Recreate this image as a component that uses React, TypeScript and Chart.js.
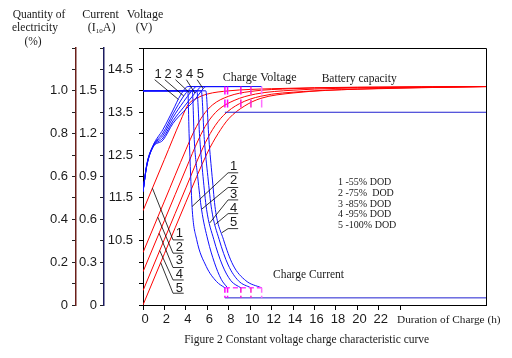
import React, { useEffect, useRef } from 'react';
import { Chart, registerables } from 'chart.js';
Chart.register(...registerables);

// ---------- data ----------
const X_TICKS = [0, 2, 4, 6, 8, 10, 12, 14, 16, 18, 20, 22, 24];
const DOD_LEGEND = ['1 -55% DOD', '2 -75%  DOD', '3 -85% DOD', '4 -95% DOD', '5 -100% DOD'];

// Charge voltage (V) vs time (h)
const V1 = [[0, 11.65], [0.35, 12.28], [0.93, 12.72], [1.87, 13.1], [2.8, 13.55], [3.5, 13.9], [4.2, 14.1], [7.64, 14.1]];
const V2 = [[0, 11.65], [0.35, 12.27], [0.93, 12.71], [1.87, 13.02], [2.8, 13.46], [3.8, 13.88], [4.3, 14.03], [4.6, 14.1], [7.89, 14.1]];
const V3 = [[0, 11.65], [0.35, 12.26], [0.93, 12.7], [1.87, 12.96], [2.8, 13.38], [3.8, 13.75], [4.5, 13.98], [5.0, 14.1], [9.13, 14.1]];
const V4 = [[0, 11.65], [0.35, 12.25], [0.93, 12.69], [1.87, 12.9], [2.8, 13.3], [3.8, 13.62], [4.6, 13.87], [5.1, 14.02], [5.45, 14.1], [10.07, 14.1]];
const V5 = [[0, 11.65], [0.35, 12.24], [0.93, 12.68], [1.87, 12.85], [2.8, 13.24], [3.8, 13.52], [4.8, 13.78], [5.4, 13.98], [5.86, 14.1], [11.07, 14.1]];
const V_FLOAT = [[7.64, 13.5], [32, 13.5]];

// Charge current (I10A)
const I1 = [[0, 1.5], [4.18, 1.5], [4.3, 1.2], [4.45, 0.9], [4.6, 0.66], [5.0, 0.46], [5.9, 0.27], [6.85, 0.165], [7.64, 0.12]];
const I2 = [[0, 1.5], [4.6, 1.5], [4.78, 1.16], [5.1, 0.9], [5.46, 0.67], [6.05, 0.455], [6.65, 0.3], [7.3, 0.18], [7.89, 0.12]];
const I3 = [[0, 1.5], [5.02, 1.5], [5.3, 1.16], [5.6, 0.9], [5.93, 0.67], [6.6, 0.46], [7.4, 0.28], [8.2, 0.17], [9.13, 0.12]];
const I4 = [[0, 1.5], [5.44, 1.5], [5.72, 1.16], [6.05, 0.9], [6.4, 0.67], [7.1, 0.46], [7.95, 0.28], [8.9, 0.17], [10.07, 0.12]];
const I5 = [[0, 1.5], [5.86, 1.5], [6.15, 1.16], [6.45, 0.9], [6.75, 0.67], [7.5, 0.46], [8.4, 0.28], [9.6, 0.17], [11.07, 0.12]];
const I_FLOAT = [[7.64, 0.05], [32, 0.05]];
const I_STEP_TOP = [[7.64, 0.12], [11.07, 0.12]];

// Battery capacity (fraction)
const Q1 = [[0, 0.44], [2, 0.68], [3.5, 0.86], [4.2, 0.935], [5, 0.965], [6, 0.985], [8, 1.0], [12, 1.01], [20, 1.017], [32, 1.02]];
const Q2 = [[0, 0.245], [2, 0.485], [4, 0.725], [4.8, 0.815], [5.6, 0.885], [6.5, 0.935], [8, 0.975], [10, 0.997], [14, 1.01], [22, 1.017], [32, 1.02]];
const Q3 = [[0, 0.155], [2, 0.395], [4, 0.635], [5.2, 0.775], [6, 0.85], [7, 0.91], [8.5, 0.955], [10.5, 0.985], [14, 1.003], [22, 1.015], [32, 1.02]];
const Q4 = [[0, 0.067], [2, 0.307], [4, 0.547], [5.6, 0.735], [6.5, 0.82], [7.5, 0.885], [9, 0.94], [11, 0.975], [15, 0.997], [22, 1.01], [32, 1.02]];
const Q5 = [[0, 0], [2, 0.24], [4, 0.48], [6, 0.71], [7, 0.8], [8, 0.87], [9.5, 0.93], [11, 0.965], [14, 0.99], [20, 1.008], [32, 1.02]];

// switch-over times (h) of the five curves
const T_SWITCH = [7.64, 7.89, 9.13, 10.07, 11.07];
const SWITCH_COLORS = ['#ff00ff', '#ff00ff', '#ff10d0', '#ff20c8', '#ff70ff'];

// leader lines (data coords)
const LEAD_V = [
  [[1.09, 14.26], [3.3, 13.8]],
  [[2.03, 14.26], [3.8, 13.88]],
  [[3.03, 14.26], [4.36, 13.95]],
  [[4.05, 14.26], [4.83, 13.95]],
  [[5.05, 14.26], [5.61, 14.05]],
];
const LABEL_V = [[1.4, 14.38], [2.34, 14.38], [3.34, 14.38], [4.36, 14.38], [5.36, 14.38]];
const LEAD_Q = [
  [[0.88, 0.545], [2.8, 0.304], [3.8, 0.304]],
  [[1.38, 0.41], [2.8, 0.242], [3.8, 0.242]],
  [[1.5, 0.335], [2.8, 0.175], [3.8, 0.175]],
  [[1.56, 0.254], [2.8, 0.117], [3.8, 0.117]],
  [[1.65, 0.198], [2.8, 0.055], [3.8, 0.055]],
];
const LABEL_Q = [[3.4, 0.333], [3.4, 0.267], [3.4, 0.206], [3.4, 0.141], [3.4, 0.078]];
const LEAD_I = [
  [[4.58, 0.69], [7.94, 0.926], [8.88, 0.926]],
  [[5.46, 0.67], [7.94, 0.823], [8.88, 0.823]],
  [[6.23, 0.575], [7.94, 0.736], [8.88, 0.736]],
  [[6.75, 0.565], [7.94, 0.64], [8.88, 0.64]],
  [[7.33, 0.505], [7.94, 0.535], [8.88, 0.535]],
];
const LABEL_I = [[8.45, 0.969], [8.45, 0.87], [8.45, 0.776], [8.45, 0.678], [8.45, 0.578]];

// ---------- styling ----------
const SANS = "'Liberation Sans', Arial, sans-serif";
const SERIF = "'Liberation Serif', 'Times New Roman', serif";
const BLUE = '#1010ff';
const RED = '#ff0000';

const pts = (a: number[][]) => a.map(([x, y]) => ({ x, y }));

function line(a: number[][], axis: string, color: string, extra: any = {}) {
  return {
    type: 'line',
    data: pts(a),
    yAxisID: axis,
    borderColor: color,
    borderWidth: 1,
    pointRadius: 0,
    fill: false,
    ...extra,
  };
}

const curve = { cubicInterpolationMode: 'monotone' };

const textPlugin = {
  id: 'texts',
  afterDraw(chart: any) {
    const ctx = chart.ctx;
    const { left, top, right, bottom } = chart.chartArea;
    const sx = chart.scales.x;
    const sV = chart.scales.yV;
    const sQ = chart.scales.yQ;
    const sI = chart.scales.yI;
    ctx.save();
    // frame top + right
    ctx.strokeStyle = '#000';
    ctx.lineWidth = 1;
    ctx.beginPath();
    ctx.moveTo(left, Math.round(top) + 0.5);
    ctx.lineTo(Math.round(right) + 0.5, Math.round(top) + 0.5);
    ctx.lineTo(Math.round(right) + 0.5, bottom);
    ctx.stroke();

    ctx.fillStyle = '#1a1a1a';
    ctx.textBaseline = 'middle';
    // axis titles
    ctx.textAlign = 'center';
    ctx.font = `11.5px ${SERIF}`;
    ctx.fillText('Quantity of', 39, 15);
    ctx.fillText('electricity', 35, 28);
    ctx.fillText('(%)', 33, 42);
    ctx.font = `12px ${SERIF}`;
    ctx.fillText('Current', 100.5, 15);
    ctx.fillText('Voltage', 145, 15);
    ctx.fillText('(V)', 144, 28);
    // (I10A)
    ctx.textAlign = 'left';
    const p1 = '(I';
    const p3 = 'A)';
    ctx.font = `12px ${SERIF}`;
    const w1 = ctx.measureText(p1).width;
    const w3 = ctx.measureText(p3).width;
    ctx.font = `7px ${SERIF}`;
    const w2 = ctx.measureText('10').width;
    const x0 = 101.7 - (w1 + w2 + w3) / 2;
    ctx.font = `12px ${SERIF}`;
    ctx.fillText(p1, x0, 28);
    ctx.font = `7px ${SERIF}`;
    ctx.fillText('10', x0 + w1, 31);
    ctx.font = `12px ${SERIF}`;
    ctx.fillText(p3, x0 + w1 + w2, 28);

    // curve texts
    ctx.font = `12px ${SERIF}`;
    ctx.fillText('Charge Voltage', 222.7, 78);
    ctx.font = `11.5px ${SERIF}`;
    ctx.fillText('Battery capacity', 321.7, 79.3);
    ctx.fillText('Charge Current', 273, 275);

    // legend
    ctx.font = `10px ${SERIF}`;
    DOD_LEGEND.forEach((t, i) => ctx.fillText(t, 338, 182.7 + i * 10.65));

    // x-axis title & caption
    ctx.font = `11.3px ${SERIF}`;
    ctx.fillText('Duration of Charge (h)', 397, 320);
    ctx.font = `11.5px ${SERIF}`;
    ctx.textAlign = 'center';
    ctx.fillText('Figure 2 Constant voltage charge characteristic curve', 306.7, 340);

    // curve number labels
    ctx.font = `13px ${SANS}`;
    ctx.textAlign = 'center';
    LABEL_V.forEach(([t, v], i) => ctx.fillText(String(i + 1), sx.getPixelForValue(t), sV.getPixelForValue(v)));
    LABEL_Q.forEach(([t, q], i) => ctx.fillText(String(i + 1), sx.getPixelForValue(t), sQ.getPixelForValue(q)));
    LABEL_I.forEach(([t, c], i) => ctx.fillText(String(i + 1), sx.getPixelForValue(t), sI.getPixelForValue(c)));
    ctx.restore();
  },
};

export default function App() {
  const ref = useRef<HTMLCanvasElement>(null);
  useEffect(() => {
    document.body.style.margin = '0';
    const datasets: any[] = [];
    // magenta switch-over steps
    T_SWITCH.forEach((t, i) => {
      datasets.push(line([[t, 14.1], [t, 13.5]], 'yV', SWITCH_COLORS[i], { borderWidth: 1.5, borderDash: [8, 5] }));
      datasets.push(line([[t, 0.12], [t, 0.05]], 'yI', SWITCH_COLORS[i], { borderWidth: 1.5, borderDash: [5, 3] }));
    });
    datasets.push(line(I_STEP_TOP, 'yI', '#ff40ff', { borderWidth: 1.5, borderDash: [5, 3] }));
    // leaders
    LEAD_V.forEach((a) => datasets.push(line(a, 'yV', '#000', { borderWidth: 0.8 })));
    LEAD_Q.forEach((a) => datasets.push(line(a, 'yQ', '#000', { borderWidth: 0.8 })));
    LEAD_I.forEach((a) => datasets.push(line(a, 'yI', '#000', { borderWidth: 0.8 })));
    // curves
    [V1, V2, V3, V4, V5].forEach((a) => datasets.push(line(a, 'yV', BLUE, curve)));
    datasets.push(line(V_FLOAT, 'yV', '#2020d0'));
    [I1, I2, I3, I4, I5].forEach((a) => datasets.push(line(a, 'yI', BLUE, curve)));
    datasets.push(line(I_FLOAT, 'yI', '#2020d0'));
    [Q1, Q2, Q3, Q4, Q5].forEach((a) => datasets.push(line(a, 'yQ', RED, curve)));

    const tickFont = { family: SANS, size: 13 };
    const chart = new Chart(ref.current as HTMLCanvasElement, {
      type: 'line',
      data: { datasets },
      plugins: [textPlugin],
      options: {
        responsive: false,
        animation: false,
        devicePixelRatio: 1,
        layout: { padding: { top: 48, right: 26, left: 0, bottom: 0 } },
        plugins: { legend: { display: false }, tooltip: { enabled: false } },
        events: [],
        scales: {
          x: {
            type: 'linear',
            position: 'bottom',
            min: 0,
            max: 32,
            afterBuildTicks: (s: any) => {
              s.ticks = X_TICKS.map((v) => ({ value: v }));
            },
            afterFit: (s: any) => {
              s.height = 53;
            },
            ticks: {
              autoSkip: false,
              maxRotation: 0,
              padding: 2,
              labelOffset: 2,
              font: tickFont,
              color: '#1a1a1a',
              callback: (v: any) => (v <= 22 ? String(v) : ''),
            },
            grid: { drawOnChartArea: false, drawTicks: true, tickLength: 5, color: '#000' },
            border: { color: '#000', width: 1 },
          },
          yV: {
            type: 'linear',
            position: 'left',
            weight: 0,
            min: 9,
            max: 15,
            afterFit: (s: any) => {
              s.width = 39;
            },
            ticks: {
              stepSize: 0.5,
              padding: 6,
              font: tickFont,
              color: '#1a1a1a',
              callback: (v: any) => {
                const r = Math.round(v * 10);
                return r % 10 === 5 && r >= 105 ? (r / 10).toFixed(1) : '';
              },
            },
            grid: { drawOnChartArea: false, drawTicks: true, tickLength: 4, color: '#000' },
            border: { color: '#000', width: 1 },
          },
          yI: {
            type: 'linear',
            position: 'left',
            weight: 1,
            min: 0,
            max: 1.8,
            afterFit: (s: any) => {
              s.width = 28;
            },
            ticks: {
              stepSize: 0.15,
              padding: 3,
              font: tickFont,
              color: '#1a1a1a',
              callback: (v: any) => {
                const r = Math.round(v * 100);
                if (r % 30 !== 0 || r > 150) return '';
                return r === 0 ? '0' : (r / 100).toFixed(1);
              },
            },
            grid: { drawOnChartArea: false, drawTicks: true, tickLength: 4, color: '#222' },
            border: { color: '#1c1c60', width: 1.5 },
          },
          yQ: {
            type: 'linear',
            position: 'left',
            weight: 2,
            min: 0,
            max: 1.2,
            afterFit: (s: any) => {
              s.width = 76;
            },
            ticks: {
              stepSize: 0.1,
              padding: 4,
              font: tickFont,
              color: '#1a1a1a',
              callback: (v: any) => {
                const r = Math.round(v * 10);
                if (r % 2 !== 0 || r > 10) return '';
                return r === 0 ? '0' : (r / 10).toFixed(1);
              },
            },
            grid: { drawOnChartArea: false, drawTicks: true, tickLength: 4, color: '#222' },
            border: { color: '#6a1f1a', width: 1.5 },
          },
        },
      } as any,
    } as any);
    return () => chart.destroy();
  }, []);
  return <canvas ref={ref} width={512} height={358} style={{ display: 'block', width: 512, height: 358 }} />;
}
